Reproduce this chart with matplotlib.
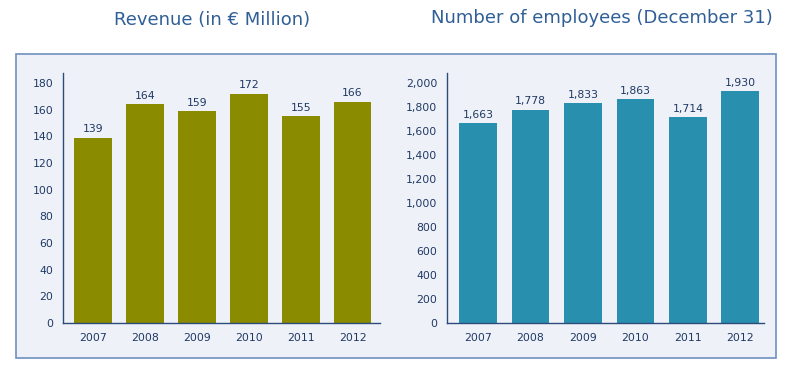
import matplotlib.pyplot as plt
from matplotlib.patches import Rectangle

years = ['2007', '2008', '2009', '2010', '2011', '2012']
revenue = [139, 164, 159, 172, 155, 166]
employees = [1663, 1778, 1833, 1863, 1714, 1930]

W, H = 791, 369
NAVY = '#1f3864'
TITLE = '#2f5f96'


def px_axes(fig, x0, x1, y0, y1):
    # axes from pixel box (y measured from top)
    return fig.add_axes([x0 / W, 1 - y1 / H, (x1 - x0) / W, (y1 - y0) / H])


def draw_bars(ax, values, color, ylim, step, xlim, width, fmt):
    x = range(len(values))
    ax.bar(x, values, width=width, color=color, zorder=2)
    for xi, v in zip(x, values):
        ax.annotate(fmt(v), (xi, v), xytext=(0, 2.5), textcoords='offset points',
                    ha='center', va='bottom', fontsize=7.8, color=NAVY)
    ax.set_xlim(*xlim)
    ax.set_ylim(0, ylim)
    ax.set_yticks(range(0, int(ylim) + 1, step))
    ax.set_yticklabels([fmt(t) for t in range(0, int(ylim) + 1, step)])
    ax.set_xticks(list(x))
    ax.set_xticklabels(years)
    ax.patch.set_visible(False)
    for s in ['top', 'right']:
        ax.spines[s].set_visible(False)
    for s in ['left', 'bottom']:
        ax.spines[s].set_color('#2e4a7a')
        ax.spines[s].set_linewidth(1.0)
    ax.tick_params(length=0, labelsize=7.8, colors=NAVY)
    ax.tick_params(axis='y', pad=7)
    ax.tick_params(axis='x', pad=7)


fig = plt.figure(figsize=(W / 100, H / 100), dpi=100)
fig.patches.append(Rectangle((16 / W, 1 - 358 / H), (776 - 16) / W, (358 - 54) / H,
                             transform=fig.transFigure, facecolor='#eef2f8',
                             edgecolor='#7090c0', linewidth=1.2, zorder=-10))

ax1 = px_axes(fig, 63, 380, 73, 323)
draw_bars(ax1, revenue, '#8b8b00', 187.5, 20, (-0.58, 5.53), 0.73, lambda v: f'{v:d}')

ax2 = px_axes(fig, 447, 764, 73, 323)
draw_bars(ax2, employees, '#2890ae', 2083, 200, (-0.59, 5.45), 0.72, lambda v: f'{v:,d}')

fig.text(212 / W, 1 - 20 / H, 'Revenue (in € Million)', ha='center', va='center',
         fontsize=13, color=TITLE)
fig.text(602 / W, 1 - 18 / H, 'Number of employees (December 31)', ha='center', va='center',
         fontsize=13, color=TITLE)

fig.savefig('out.png', dpi=100)
